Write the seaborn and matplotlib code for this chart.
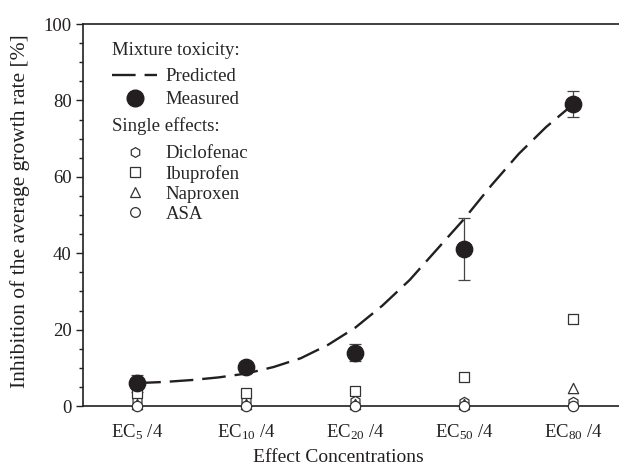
import numpy as np
import pandas as pd
import matplotlib
matplotlib.use('Agg')
import matplotlib.pyplot as plt
import seaborn as sns
from matplotlib.lines import Line2D
from matplotlib.ticker import MultipleLocator

# effect concentrations (x categories)
conc_labels = ['EC$_{5}$ /4', 'EC$_{10}$ /4', 'EC$_{20}$ /4', 'EC$_{50}$ /4', 'EC$_{80}$ /4']

# mixture toxicity, measured (mean and error)
measured = [5.9, 10.3, 14.0, 41.1, 79.0]
measured_err = [2.3, 0.8, 2.3, 8.0, 3.4]

# mixture toxicity, predicted curve
pred_pos = [0, 0.25, 0.5, 0.75, 1, 1.25, 1.5, 1.75, 2, 2.25, 2.5, 2.75, 3, 3.25, 3.5, 3.75, 4]
pred_val = [6.0, 6.3, 6.8, 7.5, 8.5, 10.2, 12.5, 16.0, 20.5, 26.3, 33.0, 41.0, 49.0, 57.8, 66.0, 73.0, 79.0]

# single substance effects
diclofenac = [1.2, 1.2, 1.2, 1.0, 1.0]
ibuprofen = [3.5, 3.5, 4.0, 7.6, 22.8]
naproxen = [0.5, 0.5, 0.5, 0.5, 4.6]
asa = [0.0, 0.0, 0.0, 0.0, 0.0]

sns.set_theme(style='ticks')
plt.rcParams['font.family'] = ['Liberation Serif', 'DejaVu Serif']
plt.rcParams['mathtext.fontset'] = 'custom'
plt.rcParams['mathtext.rm'] = 'Liberation Serif'
plt.rcParams['mathtext.it'] = 'Liberation Serif:italic'

pos = np.arange(len(conc_labels))
df = pd.DataFrame({'pos': pos, 'measured': measured, 'err': measured_err,
                   'Diclofenac': diclofenac, 'Ibuprofen': ibuprofen,
                   'Naproxen': naproxen, 'ASA': asa})
pred = pd.DataFrame({'pos': pred_pos, 'val': pred_val})

fig = plt.figure(figsize=(6.19, 4.69), dpi=100)
ax = fig.add_axes([0.1336, 0.1343, 0.8664, 0.8145])

ink = '#231f20'

# predicted curve
sns.lineplot(data=pred, x='pos', y='val', ax=ax, color=ink, lw=1.7,
             dashes=False, zorder=2).lines[-1].set_dashes([10, 3.8])

# single effects (open markers)
single = [('Diclofenac', 'h'), ('Ibuprofen', 's'), ('Naproxen', '^'), ('ASA', 'o')]
for name, mk in single:
    sns.scatterplot(data=df, x='pos', y=name, ax=ax, marker=mk, s=55,
                    facecolor='white', edgecolor='#333333', linewidth=0.9,
                    zorder=4, clip_on=False)

# measured
ax.errorbar(df['pos'], df['measured'], yerr=df['err'], fmt='none',
            ecolor='#444444', elinewidth=0.9, capsize=4, capthick=0.9, zorder=3)
sns.scatterplot(data=df, x='pos', y='measured', ax=ax, s=140, color=ink,
                edgecolor=ink, zorder=5)

ax.set_xlim(-0.5, 4.42)
ax.set_ylim(0, 100)
ax.set_xticks(pos)
ax.set_xticklabels(conc_labels, fontsize=13.5)
ax.yaxis.set_major_locator(MultipleLocator(20))
ax.yaxis.set_minor_locator(MultipleLocator(5))
ax.tick_params(axis='y', which='major', length=5, width=1.0, labelsize=13.5,
               color=ink, labelcolor=ink, pad=3)
ax.tick_params(axis='y', which='minor', length=3, width=1.0, color=ink)
ax.tick_params(axis='x', length=0, pad=12, labelcolor=ink)

ax.set_xlabel('Effect Concentrations', fontsize=14, color=ink)
ax.set_ylabel('Inhibition of the average growth rate [%]', fontsize=15.5, color=ink)
ax.xaxis.set_label_coords(0.476, -0.112)
ax.yaxis.set_label_coords(-0.098, 0.51)

for side in ['left', 'top', 'bottom']:
    ax.spines[side].set_color(ink)
    ax.spines[side].set_linewidth(1.2)
ax.spines['right'].set_visible(False)

# legends
h_mix = [Line2D([], [], color=ink, lw=1.7, dashes=[10, 3.8]),
         Line2D([], [], marker='o', ls='none', color=ink, markersize=12)]
leg1 = ax.legend(h_mix, ['Predicted', 'Measured'], title='Mixture toxicity:',
                 alignment='left', frameon=False, fontsize=13.5, title_fontsize=13.5,
                 loc='upper left', bbox_to_anchor=(0.055, 0.954), borderpad=0,
                 borderaxespad=0, handlelength=2.4, handletextpad=0.45,
                 labelspacing=0.3)
leg1._legend_box.sep = 7
ax.add_artist(leg1)

h_single = [Line2D([], [], marker=mk, ls='none', markerfacecolor='white',
                   markeredgecolor='#333333', markeredgewidth=0.9, markersize=7)
            for _, mk in single]
leg2 = ax.legend(h_single, [n for n, _ in single], title='Single effects:',
                 alignment='left', frameon=False, fontsize=13.5, title_fontsize=13.5,
                 loc='upper left', bbox_to_anchor=(0.055, 0.755), borderpad=0,
                 borderaxespad=0, handlelength=2.4, handletextpad=0.45,
                 labelspacing=0.15)
leg2._legend_box.sep = 7

fig.savefig('out.png', dpi=100)
